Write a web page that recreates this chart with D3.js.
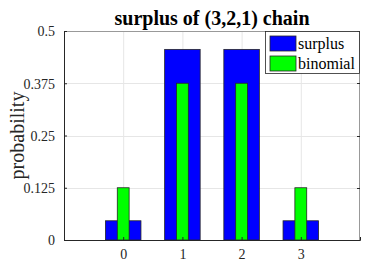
<!DOCTYPE html>
<html>
<head>
<meta charset="utf-8">
<script src="https://cdn.jsdelivr.net/npm/d3@7"></script>
<style>
  body { margin: 0; background: #fff; }
  svg { display: block; font-family: "Liberation Serif", "Times New Roman", serif; }
</style>
</head>
<body>
<div id="chart"></div>
<script>
// values
const states = [0, 1, 2, 3];
const surplus = [0.046, 0.456, 0.456, 0.046];
const binomial = [0.125, 0.375, 0.375, 0.125];
const yTicks = [0, 0.125, 0.25, 0.375, 0.5];
const seriesNames = ["surplus", "binomial"];
const seriesColors = ["#0000ff", "#00ff00"];

const W = 374, H = 276;
const margin = { top: 31, right: 14, bottom: 36, left: 64 };
const iw = W - margin.left - margin.right;
const ih = H - margin.top - margin.bottom;

const svg = d3.select("#chart").append("svg")
  .attr("width", W)
  .attr("height", H);

const x = d3.scaleLinear().domain([-1, 4]).range([0, iw]);
const y = d3.scaleLinear().domain([0, 0.5]).range([ih, 0]);

const g = svg.append("g")
  .attr("transform", `translate(${margin.left},${margin.top})`);

// grid
g.append("g").selectAll("line")
  .data(states)
  .join("line")
  .attr("x1", d => x(d) + 0.5).attr("x2", d => x(d) + 0.5)
  .attr("y1", 0).attr("y2", ih)
  .attr("stroke", "#e6e6e6");
g.append("g").selectAll("line")
  .data(yTicks.slice(1, -1))
  .join("line")
  .attr("x1", 0).attr("x2", iw)
  .attr("y1", d => Math.round(y(d)) + 0.5).attr("y2", d => Math.round(y(d)) + 0.5)
  .attr("stroke", "#e6e6e6");

// bars
const wide = 0.6, narrow = 0.2;
const bw = x(wide) - x(0), nw = x(narrow) - x(0);
g.append("g").selectAll("rect")
  .data(states)
  .join("rect")
  .attr("x", d => x(d) - bw / 2)
  .attr("width", bw)
  .attr("y", (d, i) => y(surplus[i]))
  .attr("height", (d, i) => ih - y(surplus[i]))
  .attr("fill", seriesColors[0])
  .attr("stroke", "#262626")
  .attr("stroke-width", 0.8);
g.append("g").selectAll("rect")
  .data(states)
  .join("rect")
  .attr("x", d => x(d) - nw / 2)
  .attr("width", nw)
  .attr("y", (d, i) => y(binomial[i]))
  .attr("height", (d, i) => ih - y(binomial[i]))
  .attr("fill", seriesColors[1])
  .attr("stroke", "#262626")
  .attr("stroke-width", 0.8);

// box
g.append("line").attr("x1", 0).attr("x2", iw).attr("y1", 0.5).attr("y2", 0.5).attr("stroke", "#999");
g.append("line").attr("x1", iw - 0.5).attr("x2", iw - 0.5).attr("y1", 0).attr("y2", ih).attr("stroke", "#999");

// axes (ticks inward)
const xAxis = g.append("g")
  .attr("transform", `translate(0,${ih})`)
  .call(d3.axisBottom(x).tickValues(states).tickSize(-3).tickPadding(9).tickFormat(d3.format("d")));
const yAxis = g.append("g")
  .call(d3.axisLeft(y).tickValues(yTicks).tickSize(-3).tickPadding(9).tickFormat(d => d === 0 ? "0" : String(d)));
[xAxis, yAxis].forEach(a => {
  a.select(".domain").attr("stroke", "#262626");
  a.selectAll(".tick line").attr("stroke", "#262626");
  a.selectAll("text")
    .attr("fill", "#262626")
    .style("font-family", "Liberation Serif, serif")
    .style("font-size", "14px");
});
yAxis.selectAll(".tick text").attr("dy", "0.35em");
// right-side ticks
g.append("g").selectAll("line")
  .data(yTicks)
  .join("line")
  .attr("x1", iw - 3).attr("x2", iw)
  .attr("y1", d => Math.round(y(d)) + 0.5).attr("y2", d => Math.round(y(d)) + 0.5)
  .attr("stroke", "#262626");

// title
svg.append("text")
  .attr("x", margin.left + iw / 2)
  .attr("y", 25)
  .attr("text-anchor", "middle")
  .attr("font-size", 20)
  .attr("font-weight", "bold")
  .text("surplus of (3,2,1) chain");

// y label
svg.append("text")
  .attr("transform", `translate(24,${margin.top + ih / 2}) rotate(-90)`)
  .attr("text-anchor", "middle")
  .attr("font-size", 20)
  .attr("fill", "#262626")
  .text("probability");

// legend
const lg = svg.append("g").attr("transform", `translate(265,31)`);
lg.append("rect")
  .attr("x", 0.5).attr("y", 0.5)
  .attr("width", 94).attr("height", 42)
  .attr("fill", "#fff")
  .attr("stroke", "#262626")
  .attr("stroke-width", 0.8);
seriesNames.forEach((name, i) => {
  lg.append("rect")
    .attr("x", 5).attr("y", 5 + i * 20)
    .attr("width", 26).attr("height", 15)
    .attr("fill", seriesColors[i])
    .attr("stroke", "#262626")
    .attr("stroke-width", 0.8);
  lg.append("text")
    .attr("x", 33).attr("y", 18 + i * 20)
    .attr("font-size", 16)
    .attr("fill", "#000")
    .text(name);
});
</script>
</body>
</html>
